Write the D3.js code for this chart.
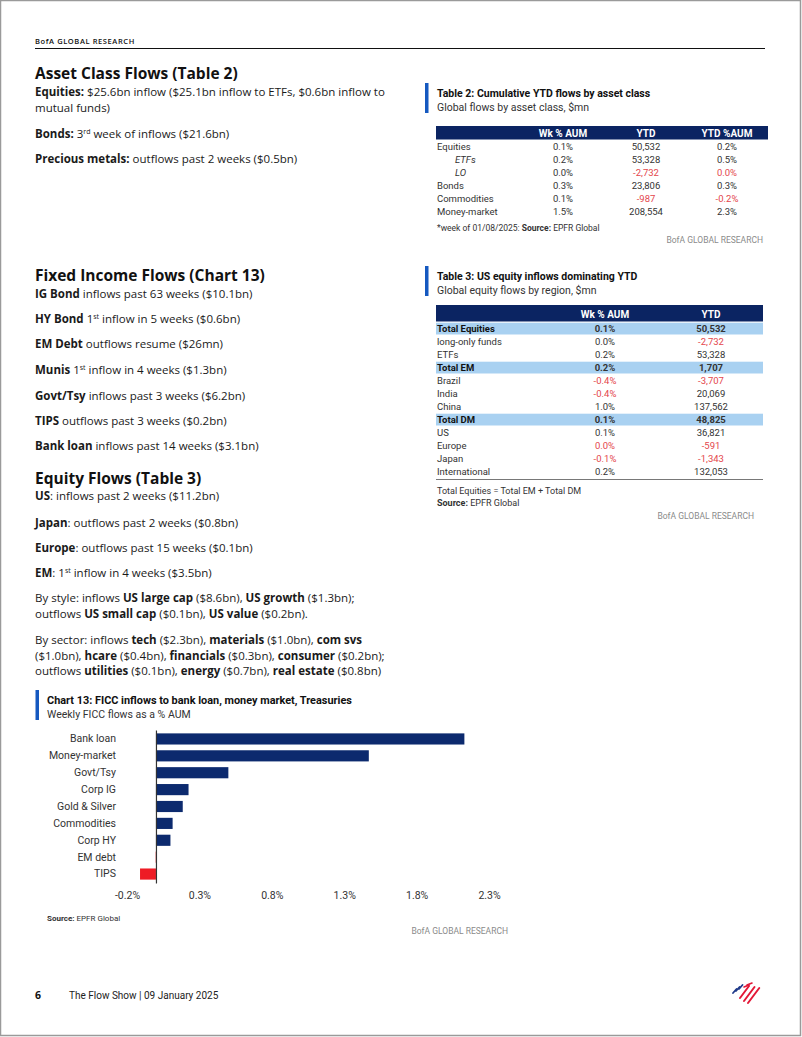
<!DOCTYPE html>
<html><head><meta charset="utf-8">
<script src="https://cdn.jsdelivr.net/npm/d3@7"></script>
<style>
html,body{margin:0;padding:0;background:#fff;}
svg{display:block;}
.body{font-family:"Open Sans",sans-serif;font-size:11.5px;fill:#1a1a1a;}
.cond{font-family:Roboto,sans-serif;}
</style></head>
<body><svg id="page" width="802" height="1037"></svg>
<script>
// ---------- DATA ----------
const chartCategories = ["Bank loan","Money-market","Govt/Tsy","Corp IG","Gold & Silver","Commodities","Corp HY","EM debt","TIPS"];
const chartValues = [2.13, 1.47, 0.50, 0.225, 0.185, 0.115, 0.10, -0.002, -0.11];
const chartTicks = [-0.2, 0.3, 0.8, 1.3, 1.8, 2.3];

const t2Columns = ["Wk % AUM","YTD","YTD %AUM"];
const t2Labels = ["Equities","ETFs","LO","Bonds","Commodities","Money-market"];
const t2Indent = [false,true,true,false,false,false];
const t2Wk = [0.1, 0.2, 0.0, 0.3, 0.1, 1.5];
const t2Ytd = [50532, 53328, -2732, 23806, -987, 208554];
const t2YtdAum = [0.2, 0.5, -0.01, 0.3, -0.2, 2.3];

const t3Columns = ["Wk % AUM","YTD"];
const t3Labels = ["Total Equities","long-only funds","ETFs","Total EM","Brazil","India","China","Total DM","US","Europe","Japan","International"];
const t3Totals = ["Total Equities","Total EM","Total DM"];
const t3Wk = [0.1, 0.0, 0.2, 0.2, -0.4, -0.4, 1.0, 0.1, 0.1, -0.01, -0.1, 0.2];
const t3Ytd = [50532, -2732, 53328, 1707, -3707, 20069, 137562, 48825, 36821, -591, -1343, 132053];

// ---------- helpers ----------
const NAVY = "#0b2462", BAR = "#0c2a6e", RED = "#e4464c", ACCENT = "#1559c0", GREY = "#8a8a8a";
const loc = d3.formatLocale({decimal:".", thousands:",", grouping:[3], currency:["$",""], minus:"-"});
const fmtNum = loc.format(",");
const fmtPct = v => (Math.abs(v) < 0.05 ? "0.0" : v.toFixed(1)) + "%";
const svg = d3.select("#page");

// page border
svg.append("rect").attr("x",0.5).attr("y",0.5).attr("width",800).attr("height",1035)
  .attr("fill","none").attr("stroke","#9a9a9a").attr("stroke-width",1.5);

// header
svg.append("text").attr("x",35).attr("y",44).attr("font-family","Open Sans, sans-serif")
  .attr("font-size",7.5).attr("font-weight",600).attr("letter-spacing",0.6).attr("fill","#111").text("BofA GLOBAL RESEARCH");
svg.append("line").attr("x1",35).attr("x2",765).attr("y1",48.5).attr("y2",48.5).attr("stroke","#111").attr("stroke-width",1.2);

// rich text lines: segments [text, style]  style: "b" bold, "s" superscript, "" normal
function richLine(x, y, segs, cls){
  const t = svg.append("text").attr("class",cls||"body").attr("x",x).attr("y",y);
  let sup = false;
  segs.forEach(([txt, st]) => {
    const ts = t.append("tspan").text(txt);
    if (st === "b") ts.attr("font-weight",700);
    if (st === "s") { ts.attr("font-size",7).attr("dy",-4); sup = true; }
    else if (sup) { ts.attr("dy",4); sup = false; }
  });
  return t;
}
function heading(x, y, txt){
  svg.append("text").attr("x",x).attr("y",y).attr("font-family","Open Sans, sans-serif")
    .attr("font-size",15.5).attr("font-weight",700).attr("fill","#111").text(txt);
}

// ---------- left column text ----------
heading(35, 79, "Asset Class Flows (Table 2)");
richLine(35, 96, [["Equities:","b"],[" $25.6bn inflow ($25.1bn inflow to ETFs, $0.6bn inflow to",""]]);
richLine(35, 112, [["mutual funds)",""]]);
richLine(35, 137.5, [["Bonds:","b"],[" 3",""],["rd","s"],[" week of inflows ($21.6bn)",""]]);
richLine(35, 163, [["Precious metals:","b"],[" outflows past 2 weeks ($0.5bn)",""]]);

heading(35, 281, "Fixed Income Flows (Chart 13)");
richLine(35, 297.5, [["IG Bond","b"],[" inflows past 63 weeks ($10.1bn)",""]]);
richLine(35, 323, [["HY Bond","b"],[" 1",""],["st","s"],[" inflow in 5 weeks ($0.6bn)",""]]);
richLine(35, 348, [["EM Debt","b"],[" outflows resume ($26mn)",""]]);
richLine(35, 374, [["Munis","b"],[" 1",""],["st","s"],[" inflow in 4 weeks ($1.3bn)",""]]);
richLine(35, 399.5, [["Govt/Tsy","b"],[" inflows past 3 weeks ($6.2bn)",""]]);
richLine(35, 425, [["TIPS","b"],[" outflows past 3 weeks ($0.2bn)",""]]);
richLine(35, 450, [["Bank loan","b"],[" inflows past 14 weeks ($3.1bn)",""]]);

heading(35, 484, "Equity Flows (Table 3)");
richLine(35, 500, [["US","b"],[": inflows past 2 weeks ($11.2bn)",""]]);
richLine(35, 526.5, [["Japan","b"],[": outflows past 2 weeks ($0.8bn)",""]]);
richLine(35, 552, [["Europe","b"],[": outflows past 15 weeks ($0.1bn)",""]]);
richLine(35, 577, [["EM","b"],[": 1",""],["st","s"],[" inflow in 4 weeks ($3.5bn)",""]]);
richLine(35, 602, [["By style: inflows ",""],["US large cap","b"],[" ($8.6bn), ",""],["US growth","b"],[" ($1.3bn);",""]]);
richLine(35, 618, [["outflows ",""],["US small cap","b"],[" ($0.1bn), ",""],["US value","b"],[" ($0.2bn).",""]]);
richLine(35, 644, [["By sector: inflows ",""],["tech","b"],[" ($2.3bn), ",""],["materials","b"],[" ($1.0bn), ",""],["com svs","b"]]);
richLine(35, 659.5, [["($1.0bn), ",""],["hcare","b"],[" ($0.4bn), ",""],["financials","b"],[" ($0.3bn), ",""],["consumer","b"],[" ($0.2bn);",""]]);
richLine(35, 675, [["outflows ",""],["utilities","b"],[" ($0.1bn), ",""],["energy","b"],[" ($0.7bn), ",""],["real estate","b"],[" ($0.8bn)",""]]);

// ---------- titles for exhibits ----------
function exhibitTitle(x, yTop, title, sub, barX, fs){
  svg.append("rect").attr("x",barX).attr("y",yTop).attr("width",3.5).attr("height",30).attr("fill",ACCENT);
  svg.append("text").attr("class","cond").attr("x",x).attr("y",yTop+14).attr("font-size",fs||10.5)
    .attr("font-weight",700).attr("fill","#111").text(title);
  svg.append("text").attr("class","cond").attr("x",x).attr("y",yTop+27.5).attr("font-size",10.5)
    .attr("fill","#333").text(sub);
}
function grey(x, y, anchor){
  svg.append("text").attr("class","cond").attr("x",x).attr("y",y).attr("text-anchor",anchor||"end")
    .attr("font-size",8.5).attr("fill",GREY).text("BofA GLOBAL RESEARCH");
}

// ---------- Table 2 ----------
exhibitTitle(437, 83, "Table 2: Cumulative YTD flows by asset class", "Global flows by asset class, $mn", 425);
const t2x = [563, 646, 727];
svg.append("rect").attr("x",436).attr("y",126).attr("width",332).attr("height",13.5).attr("fill",NAVY);
t2Columns.forEach((c,i)=> svg.append("text").attr("class","cond").attr("x",t2x[i]).attr("y",136.5)
  .attr("text-anchor","middle").attr("font-size",10).attr("font-weight",700).attr("fill","#fff").text(c));
const t2y = i => 150 + i*13;
t2Labels.forEach((lab,i)=>{
  const g = svg.append("g").attr("class","cond").attr("font-size",9.5);
  g.append("text").attr("x", t2Indent[i] ? 455 : 437).attr("y",t2y(i)).attr("fill","#333")
    .attr("font-style", t2Indent[i] ? "italic" : null).text(lab);
  g.append("text").attr("x",t2x[0]).attr("y",t2y(i)).attr("text-anchor","middle")
    .attr("fill", t2Wk[i] < 0 ? RED : "#333").text(fmtPct(t2Wk[i]));
  g.append("text").attr("x",t2x[1]).attr("y",t2y(i)).attr("text-anchor","middle")
    .attr("fill", t2Ytd[i] < 0 ? RED : "#333").text(fmtNum(t2Ytd[i]));
  g.append("text").attr("x",t2x[2]).attr("y",t2y(i)).attr("text-anchor","middle")
    .attr("fill", t2YtdAum[i] < 0 ? RED : "#333").text(fmtPct(t2YtdAum[i]));
});
richLine(437, 230.5, [["*week of 01/08/2025: ",""],["Source:","b"],[" EPFR Global",""]], "cond").attr("font-size",8.5).attr("fill","#333");
grey(763, 243);

// ---------- Table 3 ----------
exhibitTitle(437, 266, "Table 3: US equity inflows dominating YTD", "Global equity flows by region, $mn", 425);
const t3x = [605, 711];
svg.append("rect").attr("x",436).attr("y",305).attr("width",327).attr("height",16.5).attr("fill",NAVY);
t3Columns.forEach((c,i)=> svg.append("text").attr("class","cond").attr("x",t3x[i]).attr("y",317.5)
  .attr("text-anchor","middle").attr("font-size",10).attr("font-weight",700).attr("fill","#fff").text(c));
const t3y = i => 329 + i*13;
t3Labels.forEach((lab,i)=>{
  const tot = t3Totals.includes(lab);
  if (tot) svg.append("rect").attr("x",436).attr("y",t3y(i)-6.3).attr("width",327).attr("height",11.8).attr("fill","#a9d1f1");
  const g = svg.append("g").attr("class","cond").attr("font-size",9.5).attr("font-weight", tot ? 700 : null);
  g.append("text").attr("x",437).attr("y",t3y(i)+3.4).attr("fill", tot ? "#111" : "#333").text(lab);
  g.append("text").attr("x",t3x[0]).attr("y",t3y(i)+3.4).attr("text-anchor","middle")
    .attr("fill", t3Wk[i] < 0 ? RED : "#333").text(fmtPct(t3Wk[i]));
  g.append("text").attr("x",t3x[1]).attr("y",t3y(i)+3.4).attr("text-anchor","middle")
    .attr("fill", t3Ytd[i] < 0 ? RED : "#333").text(fmtNum(t3Ytd[i]));
});
svg.append("line").attr("x1",436).attr("x2",763).attr("y1",479.5).attr("y2",479.5).attr("stroke","#555").attr("stroke-width",0.8);
richLine(437, 493.5, [["Total Equities = Total EM + Total DM",""]], "cond").attr("font-size",9).attr("fill","#333");
richLine(437, 506, [["Source:","b"],[" EPFR Global",""]], "cond").attr("font-size",9).attr("fill","#333");
grey(754, 519);

// ---------- Chart 13 ----------
exhibitTitle(47, 690, "Chart 13: FICC inflows to bank loan, money market, Treasuries", "Weekly FICC flows as a % AUM", 35.5, 10.9);
const x = d3.scaleLinear().domain([-0.2, 2.3]).range([127, 489]);
const y = d3.scaleBand().domain(chartCategories).range([730, 883]).paddingInner(0.34).paddingOuter(0.2);
const chart = svg.append("g");
chart.selectAll("rect.bar").data(chartCategories).join("rect").attr("class","bar")
  .attr("x",(d,i)=> x(Math.min(0, chartValues[i])))
  .attr("width",(d,i)=> Math.abs(x(chartValues[i]) - x(0)))
  .attr("y", d=> y(d)).attr("height", y.bandwidth())
  .attr("fill",(d,i)=> chartValues[i] < 0 ? "#ee1c25" : BAR);
const yAxis = chart.append("g").attr("transform",`translate(${x(0)},0)`)
  .call(d3.axisLeft(y).tickSize(0).tickPadding(40));
yAxis.select(".domain").attr("stroke","#333").attr("stroke-width",1.2);
yAxis.selectAll("text").attr("font-family","Roboto, sans-serif").attr("font-size",10.5).attr("fill","#333");
const xAxis = chart.append("g").attr("transform","translate(0,883)")
  .call(d3.axisBottom(x).tickValues(chartTicks).tickSize(0).tickPadding(9).tickFormat(v=> v.toFixed(1)+"%"));
xAxis.select(".domain").remove();
xAxis.selectAll("text").attr("font-family","Roboto, sans-serif").attr("font-size",10.5).attr("fill","#333");
richLine(47, 921, [["Source:","b"],[" EPFR Global",""]], "cond").attr("font-size",8).attr("fill","#333");
grey(508, 934);

// ---------- footer ----------
svg.append("text").attr("x",35).attr("y",999).attr("font-family","Open Sans, sans-serif").attr("font-size",10.5)
  .attr("font-weight",700).attr("fill","#111").text("6");
svg.append("text").attr("class","cond").attr("x",69).attr("y",999).attr("font-size",10).attr("fill","#222")
  .text("The Flow Show | 09 January 2025");
// logo
const logo = svg.append("g").attr("stroke-linecap","round");
[[733,993],[736,991],[739,989]].forEach(([a,b])=> logo.append("line")
  .attr("x1",a).attr("y1",b).attr("x2",a+3.5).attr("y2",b-4).attr("stroke","#1f3a8a").attr("stroke-width",1.8));
[[740,998,12],[744,1001,14],[748,1003,15]].forEach(([a,b,l])=> logo.append("line")
  .attr("x1",a).attr("y1",b).attr("x2",a+l*0.75).attr("y2",b-l).attr("stroke","#e31837").attr("stroke-width",2));
[[744,987],[747,985]].forEach(([a,b])=> logo.append("line")
  .attr("x1",a).attr("y1",b).attr("x2",a+5).attr("y2",b-2).attr("stroke","#e31837").attr("stroke-width",1.6));
</script></body></html>
